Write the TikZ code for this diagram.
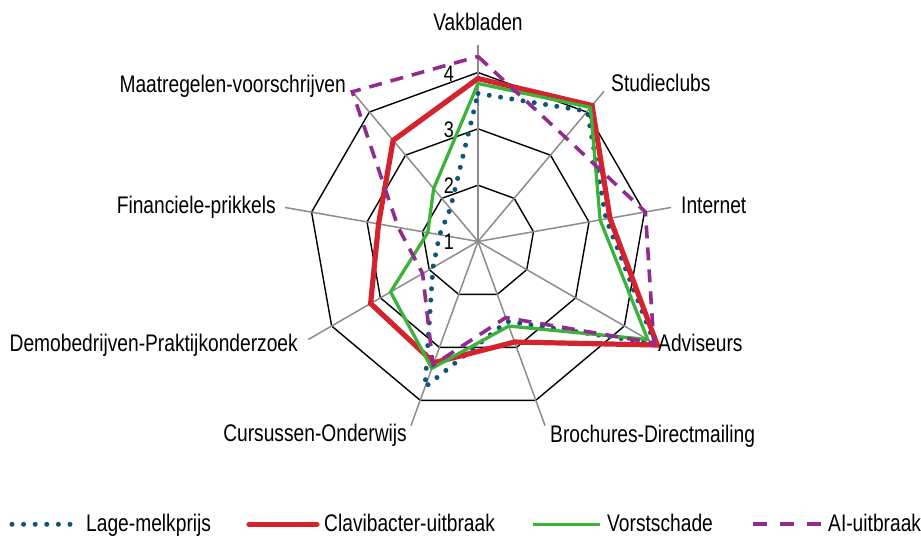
\documentclass[tikz,border=0pt]{standalone}
\usepackage{fontspec}
\setmainfont{Liberation Sans}[FakeStretch=0.8]
\definecolor{cblue}{HTML}{0E5577}
\definecolor{cred}{HTML}{D2232E}
\definecolor{cgreen}{HTML}{3DB23A}
\definecolor{cpurple}{HTML}{912C8E}
\definecolor{axgray}{HTML}{8C8C8C}
\tikzset{
  ring/.style={draw=black, line width=1.4pt},
  axisline/.style={draw=axgray, line width=1.5pt},
  sblue/.style={draw=cblue, line width=5pt, line cap=round, dash pattern=on 0pt off 11.4pt},
  sred/.style={draw=cred, line width=5.2pt, line cap=round},
  sgreen/.style={draw=cgreen, line width=3.3pt},
  spurple/.style={draw=cpurple, line width=3.6pt, dash pattern=on 13pt off 9pt},
  lab/.style={inner sep=0pt, font=\fontsize{24}{28}\selectfont},
  num/.style={inner sep=0pt, font=\fontsize{22.5}{26}\selectfont, anchor=east},
}
\begin{document}
\begin{tikzpicture}[x=1pt,y=1pt]
\useasboundingbox (0,0) rectangle (921,538);
\coordinate (O) at (478,296.5);
\begin{scope}[shift={(O)}]
  % rings
  \foreach \r in {56.3,112.7,169} {
    \draw[ring] (90:\r) \foreach \a in {50,10,-30,-70,-110,-150,-190,-230} { -- (\a:\r) } -- cycle;
  }
  % axes
  \foreach \a in {90,50,10,-30,-70,-110,-150,-190,-230} {
    \draw[axisline] (0,0) -- (\a:196);
  }
  % series
  \draw[sblue] (90:148) -- (50:170) -- (10:130) -- (-30:204) -- (-70:85) -- (-110:155) -- (-150:52) -- (-190:39) -- (-230:43) -- cycle;
  \draw[sred] (90:163) -- (50:177.5) -- (10:134) -- (-30:207) -- (-70:107) -- (-110:129) -- (-150:124) -- (-190:101) -- (-230:132) -- cycle;
  \draw[sgreen] (90:158) -- (50:175) -- (10:124) -- (-30:196) -- (-70:90) -- (-110:135) -- (-150:101) -- (-190:51) -- (-230:69) -- cycle;
  \draw[spurple] (90:185) -- (50:136) -- (10:170) -- (-30:203) -- (-70:81) -- (-110:131.5) -- (-150:64) -- (-190:81) -- (-230:195.5) -- cycle;
\end{scope}
% scale numbers
\node[num] (n1) at (454,538-242) {1};
\node[num] (n2) at (454,538-185.5) {2};
\node[num] (n3) at (454,538-129.5) {3};
\node[num] (n4) at (454,538-74) {4};
% axis labels
\node[lab, anchor=base] (lvak) at (478,538-31) {Vakbladen};
\node[lab, anchor=base west] (lstu) at (611,538-92) {Studieclubs};
\node[lab, anchor=base west] (lint) at (681,538-213.3) {Internet};
\node[lab, anchor=base west] (ladv) at (658,538-351.7) {Adviseurs};
\node[lab, anchor=base west] (lbro) at (550,538-443) {Brochures-Directmailing};
\node[lab, anchor=base east] (lcur) at (407,538-442) {Cursussen-Onderwijs};
\node[lab, anchor=base east] (ldem) at (298,538-351.7) {Demobedrijven-Praktijkonderzoek};
\node[lab, anchor=base east] (lfin) at (276,538-214) {Financiele-prikkels};
\node[lab, anchor=base east] (lmaa) at (346,538-92.7) {Maatregelen-voorschrijven};
% legend
\coordinate (kb1) at (12,13.7); \coordinate (kb2) at (70,13.7);
\coordinate (kr1) at (249,13.7); \coordinate (kr2) at (317,13.7);
\coordinate (kg1) at (533,13.7); \coordinate (kg2) at (600,13.7);
\coordinate (kp1) at (753,13.7); \coordinate (kp2) at (821,13.7);
\draw[sblue, dash pattern=on 0pt off 11.6pt] (kb1) -- (kb2);
\draw[sred] (kr1) -- (kr2);
\draw[sgreen] (kg1) -- (kg2);
\draw[spurple, dash pattern=on 14pt off 13pt] (kp1) -- (kp2);
\node[lab, anchor=base west] (tb) at (86,6.3) {Lage-melkprijs};
\node[lab, anchor=base west] (tr) at (324,6.3) {Clavibacter-uitbraak};
\node[lab, anchor=base west] (tg) at (607,6.3) {Vorstschade};
\node[lab, anchor=base west] (tp) at (828,6.3) {AI-uitbraak};
\end{tikzpicture}
\end{document}
